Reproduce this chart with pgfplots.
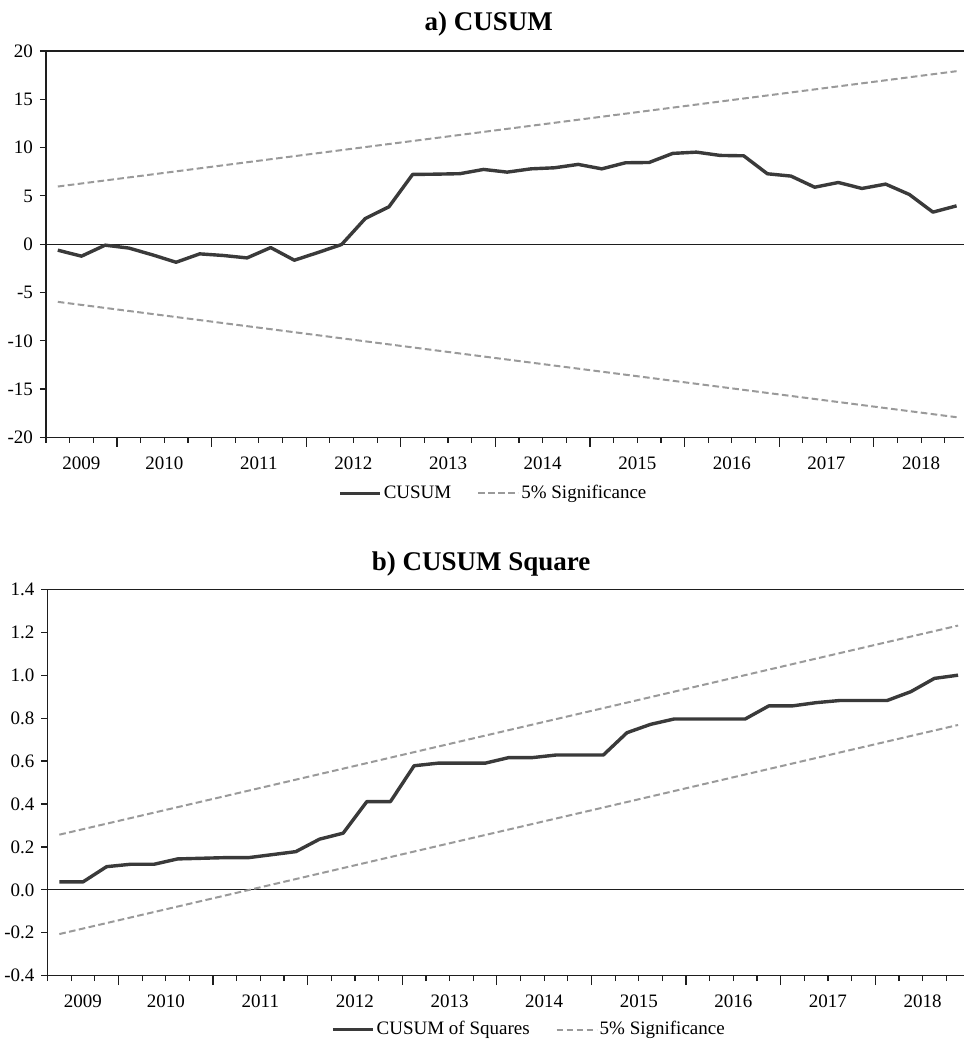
\documentclass[border=0pt]{standalone}
\usepackage{fontspec}
\setmainfont{Liberation Serif}
\usepackage{pgfplots}
\usepackage{pgfplotstable}
\pgfplotsset{compat=1.18}
\definecolor{cusum}{HTML}{3A3A3A}
\definecolor{sig}{HTML}{9A9A9A}
\definecolor{axc}{HTML}{1E1E1E}

\pgfplotstableread{
i v
0 -0.62
1 -1.24
2 -0.10
3 -0.40
4 -1.10
5 -1.87
6 -1.00
7 -1.17
8 -1.42
9 -0.35
10 -1.66
11 -0.86
12 -0.03
13 2.66
14 3.87
15 7.22
16 7.25
17 7.30
18 7.74
19 7.46
20 7.80
21 7.91
22 8.26
23 7.80
24 8.43
25 8.46
26 9.40
27 9.53
28 9.19
29 9.15
30 7.29
31 7.05
32 5.90
33 6.39
34 5.77
35 6.22
36 5.15
37 3.32
38 3.97
}\cusumtab

\pgfplotstableread{
i v
0 0.037
1 0.037
2 0.108
3 0.119
4 0.119
5 0.144
6 0.147
7 0.150
8 0.150
9 0.164
10 0.178
11 0.236
12 0.264
13 0.411
14 0.411
15 0.578
16 0.590
17 0.590
18 0.590
19 0.616
20 0.616
21 0.628
22 0.628
23 0.628
24 0.732
25 0.771
26 0.796
27 0.796
28 0.796
29 0.796
30 0.857
31 0.857
32 0.872
33 0.882
34 0.882
35 0.882
36 0.923
37 0.985
38 1.000
}\cusumsqtab

\pgfplotsset{
  basepanel/.style={
    scale only axis, width=461.2pt, height=193.2pt,
    xmin=-0.5, xmax=38.5,
    axis line style={axc, line width=0.6pt},
    tick style={axc, line width=0.6pt},
    tick align=outside, tick pos=left,
    major tick length=3pt, minor tick length=2.65pt,
    xtick={1,4.5,8.5,12.5,16.5,20.5,24.5,28.5,32.5,36.5},
    xticklabels={2009,2010,2011,2012,2013,2014,2015,2016,2017,2018},
    major x tick style={draw=none},
    minor xtick={-0.5,0.5,...,38.5},
    xticklabel style={yshift=-3pt},
    ticklabel style={font=\fontsize{9.5}{11}\selectfont, text=black},
    /pgf/number format/assume math mode=true,
    title style={font=\fontsize{13.5}{16}\selectfont\bfseries, anchor=base},
    legend style={draw=none, fill=none, legend columns=2,
      font=\fontsize{9.5}{11}\selectfont, anchor=center,
      /tikz/every even column/.append style={column sep=12pt},
      nodes={inner sep=1pt}},
    legend image code/.code={\draw[#1] (0pt,0pt) -- (20pt,0pt);},
  },
  longticks/.style={
    scale only axis, width=461.2pt, height=193.2pt,
    xmin=-0.5, xmax=38.5,
    hide y axis, axis x line*=bottom,
    axis line style={axc, line width=0.6pt},
    tick style={axc, line width=0.6pt},
    tick align=outside,
    major tick length=4.65pt,
    xtick={2.5,6.5,...,34.5}, xticklabels={},
  },
}

\begin{document}
\begin{tikzpicture}
\path[use as bounding box] (0,0) rectangle (481.5pt,-521.5pt);

% ---------- panel a ----------
\begin{axis}[basepanel,
  at={(23pt,-25.5pt)}, anchor=north west,
  ymin=-20, ymax=20, ytick={-20,-15,...,20},
  title={a) CUSUM},
  title style={at={(rel axis cs:0.48,1)}, yshift=4pt},
  legend style={at={(rel axis cs:0.485,0)}, yshift=-28pt},
]
\addplot[axc, line width=0.5pt, forget plot] coordinates {(-0.5,0) (38.5,0)};
\addplot[cusum, line width=1.7pt, line join=round] table[x=i, y=v] {\cusumtab};
\addlegendentry{CUSUM}
\addplot[sig, line width=1pt, dash pattern=on 3.3pt off 1.7pt] coordinates {(0,5.97) (38,17.91)};
\addlegendentry{5\% Significance}
\addplot[sig, line width=1pt, dash pattern=on 3.3pt off 1.7pt, forget plot] coordinates {(0,-5.97) (38,-17.91)};
\end{axis}
\begin{axis}[longticks, at={(23pt,-25.5pt)}, anchor=north west, ymin=-20, ymax=20]
\end{axis}

% ---------- panel b ----------
\begin{axis}[basepanel,
  at={(23.75pt,-294.65pt)}, anchor=north west,
  ymin=-0.4, ymax=1.4, ytick={-0.4,-0.2,...,1.41},
  yticklabel style={/pgf/number format/.cd, fixed, fixed zerofill, precision=1},
  title={b) CUSUM Square},
  title style={at={(rel axis cs:0.47,1)}, yshift=3.5pt},
  legend style={at={(rel axis cs:0.522,0)}, yshift=-27pt},
]
\addplot[axc, line width=0.5pt, forget plot] coordinates {(-0.5,0) (38.5,0)};
\addplot[cusum, line width=1.7pt, line join=round] table[x=i, y=v] {\cusumsqtab};
\addlegendentry{CUSUM of Squares}
\addplot[sig, line width=1pt, dash pattern=on 3.3pt off 1.7pt] coordinates {(0,0.257) (38,1.231)};
\addlegendentry{5\% Significance}
\addplot[sig, line width=1pt, dash pattern=on 3.3pt off 1.7pt, forget plot] coordinates {(0,-0.206) (38,0.768)};
\end{axis}
\begin{axis}[longticks, at={(23.75pt,-294.65pt)}, anchor=north west, ymin=-0.4, ymax=1.4]
\end{axis}
\end{tikzpicture}
\end{document}
